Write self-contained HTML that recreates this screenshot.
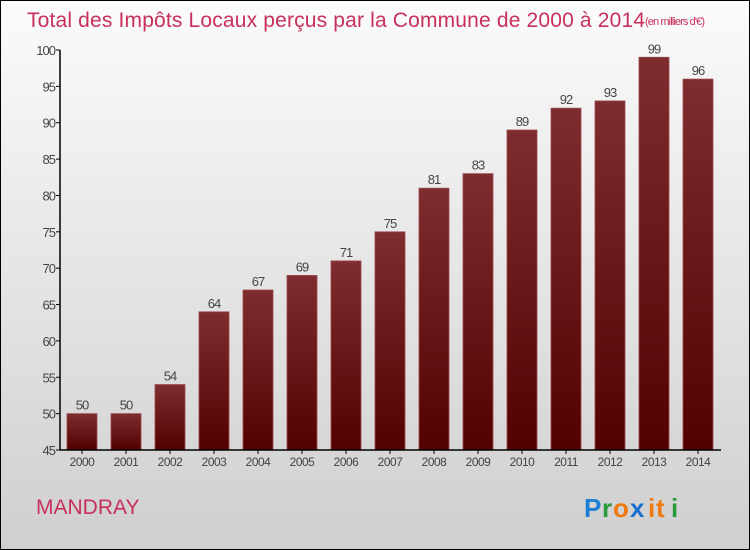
<!DOCTYPE html>
<html><head><meta charset="utf-8"><style>
body{margin:0}
svg{display:block;font-family:"Liberation Sans",sans-serif}
</style></head><body>
<svg width="750" height="550" xmlns="http://www.w3.org/2000/svg">
<defs>
<linearGradient id="bg" x1="0" y1="0" x2="0" y2="1"><stop offset="0" stop-color="#fbfbfb"/><stop offset="1" stop-color="#cfcfcf"/></linearGradient>
<linearGradient id="bar" x1="0" y1="0" x2="0" y2="1"><stop offset="0" stop-color="#7e2c2f"/><stop offset="1" stop-color="#520000"/></linearGradient>
</defs>
<rect x="0.5" y="0.5" width="749" height="549" fill="url(#bg)" stroke="#000"/>
<text x="27" y="27" font-size="21" fill="#c8305c" textLength="618">Total des Impôts Locaux perçus par la Commune de 2000 à 2014</text>
<text x="645" y="25" font-size="11" fill="#c8305c" textLength="60">(en milliers d'€)</text>
<g id="plot"></g>
<text x="36" y="514" font-size="21" fill="#c8305c">MANDRAY</text>
<g font-size="26" font-weight="bold">
<text x="584" y="517" fill="#1a7fd4">P</text><text x="602" y="517" fill="#2a9a3a">r</text><text x="613" y="517" fill="#f07a10">o</text><text x="630" y="517" fill="#1a6fd0">x</text><text x="648" y="517" fill="#f07a10">i</text><text x="656" y="517" fill="#f07a10">t</text><text x="671" y="517" fill="#2a9a3a">i</text>
</g>
</svg>
<script>
const years=["2000","2001","2002","2003","2004","2005","2006","2007","2008","2009","2010","2011","2012","2013","2014"];
const values=[50,50,54,64,67,69,71,75,81,83,89,92,93,99,96];
const yTicks=[45,50,55,60,65,70,75,80,85,90,95,100];
const NS="http://www.w3.org/2000/svg";
const g=document.getElementById('plot');
const y=v=>450-(v-45)*400/55;
const x=i=>82+i*44;
function el(t,a,txt){const e=document.createElementNS(NS,t);for(const k in a)e.setAttribute(k,a[k]);if(txt!=null)e.textContent=txt;g.appendChild(e);return e;}
yTicks.forEach(v=>{
 const t=el('line',{x1:56,x2:60,y1:y(v),y2:y(v),stroke:'#000'});
 
 
 const l=el('text',{x:55,y:y(v)+5,'text-anchor':'end','font-size':13,fill:'#444','letter-spacing':'-1'},v);
 
 
});
values.forEach((v,i)=>{
 const b=el('rect',{x:x(i)-15,y:y(v),width:30,height:450-y(v),fill:'url(#bar)',stroke:'#9a4a4c','stroke-width':0.8});
 
 
 const vl=el('text',{x:x(i),y:y(v)-4,'text-anchor':'middle','font-size':13,fill:'#444','letter-spacing':'-1'},v);
 
 
 const xl=el('text',{x:x(i),y:466,'text-anchor':'middle','font-size':12,fill:'#444','letter-spacing':'-0.5'},years[i]);
 
 
 const xt=el('line',{x1:x(i),x2:x(i),y1:450,y2:454,stroke:'#000'});
 
 
});
const ya=el('line',{x1:60,x2:60,y1:50,y2:450,stroke:'#000','stroke-width':1.5});


const xa=el('line',{x1:60,x2:721,y1:450,y2:450,stroke:'#000','stroke-width':1.5});


</script>
</body></html>
